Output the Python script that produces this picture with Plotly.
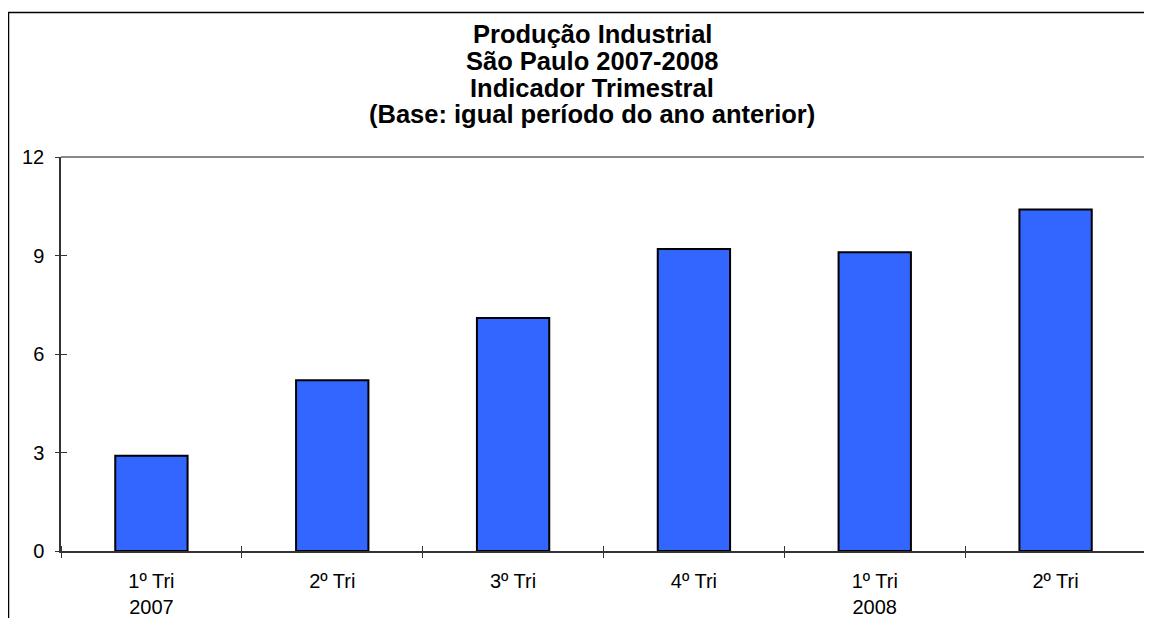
import plotly.graph_objects as go

categories = ["1º Tri<br>2007", "2º Tri", "3º Tri", "4º Tri", "1º Tri<br>2008", "2º Tri"]
values = [2.9, 5.2, 7.1, 9.2, 9.1, 10.4]
y_ticks = [0, 3, 6, 9, 12]
title_lines = [
    "Produção Industrial",
    "São Paulo 2007-2008",
    "Indicador Trimestral",
    "(Base: igual período do ano anterior)",
]

OFF = 8  # page body margin
W, H = 1152 - OFF, 618 - OFF
ML, MR = 61 - OFF, 6
MT = 157 - OFF
MB = H - (551 - OFF)
PW = W - ML - MR
PH = H - MT - MB
FONT = "Liberation Sans, Arial, sans-serif"


def px_x(p):
    return (p - OFF - ML) / PW


def px_y(p):
    return (H - MB - (p - OFF)) / PH


positions = list(range(len(categories)))
boundaries = [i - 0.5 for i in range(len(categories) + 1)]

fig = go.Figure()
fig.add_trace(go.Bar(
    x=positions, y=values, width=0.4,
    marker=dict(color="#3366FF", line=dict(color="#000000", width=2)),
    hoverinfo="x+y", showlegend=False,
))
fig.add_trace(go.Scatter(x=[], y=[], xaxis="x2", yaxis="y2",
                         showlegend=False, hoverinfo="skip"))

fig.update_layout(
    width=W, height=H,
    margin=dict(l=ML, r=MR, t=MT, b=MB, autoexpand=False),
    paper_bgcolor="white", plot_bgcolor="white",
    font=dict(family=FONT, size=20, color="#000000"),
    xaxis=dict(
        range=[-0.5, len(categories) - 0.5], tickmode="array",
        tickvals=positions, ticktext=categories, ticks="",
        showline=True, linecolor="#333333", linewidth=1.5,
        showgrid=False, zeroline=False, ticklabelstandoff=11,
        tickfont=dict(size=20),
    ),
    xaxis2=dict(
        overlaying="x", anchor="free", position=px_y(545),
        range=[-0.5, len(categories) - 0.5], tickmode="array",
        tickvals=boundaries, ticks="outside", ticklen=12, tickwidth=1.2,
        tickcolor="#333333", showticklabels=False, showline=False,
        showgrid=False, zeroline=False,
    ),
    yaxis=dict(
        range=[0, 12], tickmode="array", tickvals=y_ticks, ticks="",
        showline=True, linecolor="#333333", linewidth=1.5,
        showgrid=False, zeroline=False, ticklabelstandoff=11,
        tickfont=dict(size=20),
    ),
    yaxis2=dict(
        overlaying="y", anchor="free", position=px_x(67), side="left",
        range=[0, 12], tickmode="array", tickvals=y_ticks,
        ticks="outside", ticklen=12, tickwidth=1.2, tickcolor="#333333",
        showticklabels=False, showline=False, showgrid=False, zeroline=False,
    ),
    bargap=0.6,
)

# plot-area border (top and right) and outer chart border
fig.add_shape(type="line", xref="paper", yref="paper", x0=0, x1=1, y0=1, y1=1,
              line=dict(color="#888888", width=2))
fig.add_shape(type="line", xref="paper", yref="paper", x0=1, x1=1, y0=0, y1=1,
              line=dict(color="#888888", width=2))
fig.add_shape(type="rect", xref="paper", yref="paper",
              x0=px_x(8.5), x1=px_x(1250), y0=px_y(700), y1=px_y(12.5),
              line=dict(color="#000000", width=1.5), fillcolor="rgba(0,0,0,0)")

title_centers = [34.0, 60.7, 87.5, 114.3]
for line, cy in zip(title_lines, title_centers):
    fig.add_annotation(
        text="<b>%s</b>" % line, xref="paper", yref="paper",
        x=px_x(592), y=px_y(cy), xanchor="center", yanchor="middle",
        showarrow=False, font=dict(family=FONT, size=25.5, color="#000000"),
    )

fig.write_html("out.html")
